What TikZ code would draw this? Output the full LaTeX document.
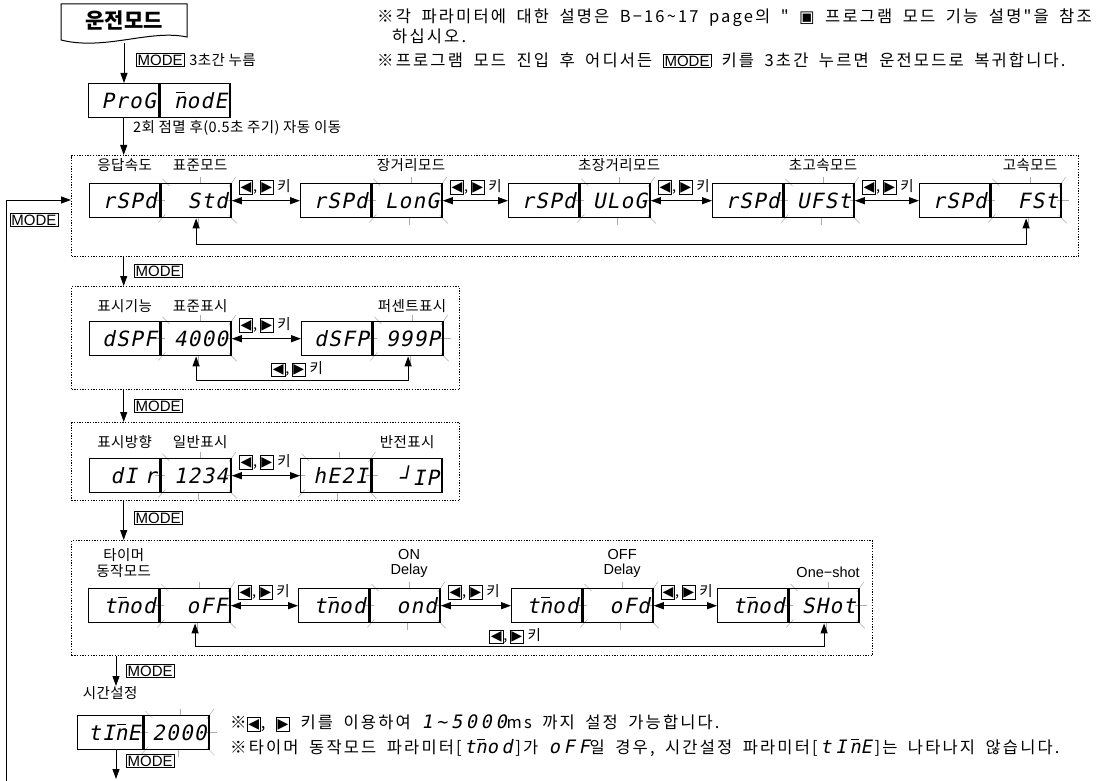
\documentclass[tikz,border=0pt]{standalone}
\usepackage{fontspec}
\setmainfont{Noto Sans CJK KR}
\newfontfamily\lat{Liberation Sans}
\newfontfamily\dejav{DejaVu Sans}
\newfontfamily\segf[FakeSlant=0.2,LetterSpace=6]{DejaVu Sans Mono}
\newfontfamily\segn[FakeSlant=0.2,LetterSpace=20]{DejaVu Sans Mono}
\newfontfamily\notef[WordSpace=1.8,LetterSpace=13]{Noto Sans CJK KR}
\newfontfamily\labf[LetterSpace=3]{Noto Sans CJK KR}
\usetikzlibrary{arrows.meta,backgrounds}
\newcommand\segfont{\segf\fontsize{21}{21}\selectfont}
\newcommand\segi{\segn\fontsize{18.5}{18.5}\selectfont}
\newcommand\labfont{\labf\fontsize{14.5}{16}\selectfont}
\newcommand\latfont{\lat\fontsize{14.5}{15}\selectfont}
\newcommand\notefont{\notef\fontsize{16.5}{18}\selectfont}
\newcommand\modefont{\lat\fontsize{15}{15}\selectfont}
\newcommand\segm{\ooalign{n\cr\hidewidth\rule[0.72em]{0.42em}{0.07em}\hidewidth\cr}}
\newcommand\keyl{{\setlength\fboxsep{1pt}\setlength\fboxrule{0.7pt}\fbox{\dejav\fontsize{14}{14}\selectfont ◀}}}
\newcommand\keyr{{\setlength\fboxsep{1pt}\setlength\fboxrule{0.7pt}\fbox{\dejav\fontsize{14}{14}\selectfont ▶}}}
\newcommand\keytext{\keyl,\,\keyr\ 키}
\newcommand\modekey{{\setlength\fboxsep{1pt}\setlength\fboxrule{0.6pt}\fbox{\modefont MODE}}}
\newcommand\blink[1]{%
 \draw[tickl] ([xshift=4pt,yshift=6pt]#1.north) -- ([xshift=4pt]#1.north);
 \draw[tickl] ([xshift=2pt]#1.south) -- ([xshift=2pt,yshift=-7pt]#1.south);
 \draw[tickl] ([xshift=-5pt]#1.west) -- ([xshift=5pt]#1.west);
 \draw[tickl] ([xshift=-5pt]#1.east) -- ([xshift=7pt]#1.east);
 \draw[tickl] ([shift={(2pt,4pt)}]#1.north west) -- ([shift={(9pt,-3pt)}]#1.north west);
 \draw[tickl] ([shift={(-3pt,-4pt)}]#1.north east) -- ([shift={(4pt,6pt)}]#1.north east);
 \draw[tickl] ([shift={(5pt,4pt)}]#1.south west) -- ([shift={(-2pt,-4pt)}]#1.south west);
 \draw[tickl] ([shift={(-3pt,3pt)}]#1.south east) -- ([shift={(5pt,-5pt)}]#1.south east);
}
\begin{document}
\begin{tikzpicture}[x=1pt,y=-1pt,
 segbox/.style={draw, line width=1.4pt, minimum width=70pt, minimum height=34pt, inner sep=0pt, text width=64pt, align=right, font=\segfont},
 tickl/.style={draw=gray!65, line width=0.5pt},
 arr/.style={-{Triangle[length=10pt,width=7pt]}, line width=0.9pt},
 dbl/.style={{Triangle[length=10pt,width=7pt]}-{Triangle[length=10pt,width=7pt]}, line width=1.2pt},
 frm/.style={draw, line width=1.3pt, dash pattern=on 1.3pt off 1.4pt, inner sep=0pt},
 lab/.style={inner sep=0pt, font=\labfont},
 keylab/.style={inner sep=0pt, font=\labfont, anchor=south west},
 modek/.style={draw, line width=0.6pt, inner sep=1.3pt, font=\modefont},
 note/.style={inner sep=0pt, font=\notefont, anchor=west}]
\useasboundingbox (0,0) rectangle (1100,781);

% frames
\node[frm, minimum width=1007pt, minimum height=101pt, anchor=north west] (f1) at (71,155) {};
\node[frm, minimum width=388pt, minimum height=103pt, anchor=north west] (f2) at (71,286) {};
\node[frm, minimum width=388pt, minimum height=78pt, anchor=north west] (f3) at (71,422) {};
\node[frm, minimum width=801pt, minimum height=115pt, anchor=north west] (f4) at (71,540) {};

% run mode box
\node[inner sep=0pt, font=\bfseries\fontsize{21}{21}\selectfont] (run) at (124,21) {운전모드};
\draw[line width=1pt] (61,40) -- (61,4) -- (187,4) -- (187,37) .. controls (150,29) and (105,51) .. (61,40) -- cycle;
\coordinate (runb) at (124,43);

% program mode
\node[segbox, anchor=north west] (pga) at (88,83) {ProG};
\node[segbox, anchor=west] (pgb) at (pga.east) {\segm odE};
\draw[arr] (runb) -- (runb |- pga.north);
\node[modek, anchor=west] (mk0) at (136,60) {MODE};
\node[lab, anchor=west] (t0) at ([xshift=5pt]mk0.east) {3초간 누름};
\draw[arr] (pga.south) -- (pga.south |- f1.north);
\node[lab, anchor=west] (t1) at (133,128) {2회 점멸 후(0.5초 주기) 자동 이동};

% notes
\node[note] (n1) at (377,18) {※각 파라미터에 대한 설명은 B−16\textasciitilde 17 page의 " {\dejav ▣} 프로그램 모드 기능 설명"을 참조};
\node[note] (n1b) at (392,36) {하십시오.};
\node[note] (n2) at (377,60) {※프로그램 모드 진입 후 어디서든 \modekey\ 키를 3초간 누르면 운전모드로 복귀합니다.};

% row 1 : response speed
\node[segbox, anchor=north west] (a1) at (89,183) {rSPd};
\node[segbox, anchor=west] (a1v) at (a1.east) {Std};
\node[segbox, anchor=north west] (a2) at (300,183) {rSPd};
\node[segbox, anchor=west] (a2v) at (a2.east) {LonG};
\node[segbox, anchor=north west] (a3) at (508,183) {rSPd};
\node[segbox, anchor=west] (a3v) at (a3.east) {ULoG};
\node[segbox, anchor=north west] (a4) at (712,183) {rSPd};
\node[segbox, anchor=west] (a4v) at (a4.east) {UFSt};
\node[segbox, anchor=north west] (a5) at (919,183) {rSPd};
\node[segbox, anchor=west] (a5v) at (a5.east) {FSt};
\node[lab] (la0) at ([yshift=18pt]a1.north) {응답속도};
\node[lab] (la1) at ([xshift=4pt,yshift=18pt]a1v.north) {표준모드};
\node[lab] (la2) at ([xshift=4pt,yshift=18pt]a2v.north) {장거리모드};
\node[lab] (la3) at ([xshift=4pt,yshift=18pt]a3v.north) {초장거리모드};
\node[lab] (la4) at ([xshift=4pt,yshift=18pt]a4v.north) {초고속모드};
\node[lab] (la5) at ([xshift=4pt,yshift=18pt]a5v.north) {고속모드};
\draw[dbl] (a1v.east) -- (a2.west);
\draw[dbl] (a2v.east) -- (a3.west);
\draw[dbl] (a3v.east) -- (a4.west);
\draw[dbl] (a4v.east) -- (a5.west);
\node[keylab] (ka1) at ([shift={(7pt,6pt)}]a1v.east) {\keytext};
\node[keylab] (ka2) at ([shift={(7pt,6pt)}]a2v.east) {\keytext};
\node[keylab] (ka3) at ([shift={(7pt,6pt)}]a3v.east) {\keytext};
\node[keylab] (ka4) at ([shift={(7pt,6pt)}]a4v.east) {\keytext};
\draw[dbl] (a5v.south) -- ++(0,-26pt) -| (a1v.south);

% row 2 : display function
\node[segbox, anchor=north west] (b1) at (89,321) {dSPF};
\node[segbox, anchor=west] (b1v) at (b1.east) {4000};
\node[segbox, anchor=north west] (b2) at (301,321) {dSFP};
\node[segbox, anchor=west] (b2v) at (b2.east) {999P};
\node[lab] (lb0) at ([yshift=15pt]b1.north) {표시기능};
\node[lab] (lb1) at ([xshift=4pt,yshift=15pt]b1v.north) {표준표시};
\node[lab] (lb2) at ([xshift=4pt,yshift=15pt]b2v.north) {퍼센트표시};
\draw[dbl] (b1v.east) -- (b2.west);
\node[keylab] (kb1) at ([shift={(7pt,6pt)}]b1v.east) {\keytext};
\draw[dbl] (b2v.south) -- ++(0,-24pt) -| (b1v.south);
\node[lab] (kb2) at ([xshift=-4pt,yshift=-13pt]b1v.south -| b2.west) {\keytext};

% row 3 : display direction
\node[segbox, anchor=north west] (c1) at (89,458) {dI r};
\node[segbox, anchor=west] (c1v) at (c1.east) {1234};
\node[segbox, anchor=north west] (c2) at (300,458) {hE2I};
\node[segbox, anchor=west] (c2v) at (c2.east) {┘IP};
\node[lab] (lc0) at ([yshift=16pt]c1.north) {표시방향};
\node[lab] (lc1) at ([xshift=4pt,yshift=16pt]c1v.north) {일반표시};
\node[lab] (lc2) at ([yshift=16pt]c2v.north) {반전표시};
\draw[dbl] (c1v.east) -- (c2.west);
\node[keylab] (kc1) at ([shift={(7pt,6pt)}]c1v.east) {\keytext};

% row 4 : timer mode
\node[segbox, anchor=north west] (d1) at (88,588) {t\segm od};
\node[segbox, anchor=west] (d1v) at (d1.east) {oFF};
\node[segbox, anchor=north west] (d2) at (298,588) {t\segm od};
\node[segbox, anchor=west] (d2v) at (d2.east) {ond};
\node[segbox, anchor=north west] (d3) at (511,588) {t\segm od};
\node[segbox, anchor=west] (d3v) at (d3.east) {oFd};
\node[segbox, anchor=north west] (d4) at (717,588) {t\segm od};
\node[segbox, anchor=west] (d4v) at (d4.east) {SHot};
\node[lab, align=center, anchor=south] (ld0) at ([yshift=10pt]d1.north) {타이머\\동작모드};
\node[lab, font=\latfont, align=center, anchor=south] (ld2) at ([xshift=4pt,yshift=10pt]d2v.north) {ON\\Delay};
\node[lab, font=\latfont, align=center, anchor=south] (ld3) at ([xshift=4pt,yshift=10pt]d3v.north) {OFF\\Delay};
\node[lab, font=\latfont, anchor=south] (ld4) at ([xshift=4pt,yshift=10pt]d4v.north) {One−shot};
\draw[dbl] (d1v.east) -- (d2.west);
\draw[dbl] (d2v.east) -- (d3.west);
\draw[dbl] (d3v.east) -- (d4.west);
\node[keylab] (kd1) at ([shift={(7pt,6pt)}]d1v.east) {\keytext};
\node[keylab] (kd2) at ([shift={(7pt,6pt)}]d2v.east) {\keytext};
\node[keylab] (kd3) at ([shift={(7pt,6pt)}]d3v.east) {\keytext};
\draw[dbl] (d4v.south) -- ++(0,-23pt) -| (d1v.south);
\node[lab] (kd4) at ([xshift=4pt,yshift=-13pt]d1v.south -| d3.west) {\keytext};

% MODE transitions between frames
\draw[arr] (f1.south -| pga) -- (f2.north -| pga);
\node[modek, anchor=west] (mk1) at (134,271) {MODE};
\draw[arr] (f2.south -| pga) -- (f3.north -| pga);
\node[modek, anchor=west] (mk2) at (134,406) {MODE};
\draw[arr] (f3.south -| pga) -- (f4.north -| pga);
\node[modek, anchor=west] (mk3) at (134,518) {MODE};

% time setting
\node[segbox, minimum width=65pt, text width=60pt, anchor=north west] (e1) at (77,715) {tI\segm E};
\node[segbox, minimum width=65pt, text width=60pt, anchor=west] (e1v) at (e1.east) {2000};
\node[lab] (le0) at ([yshift=22pt]e1.north) {시간설정};
\coordinate (tx) at (116,686);
\draw[arr] (f4.south -| tx) -- (tx);
\node[modek, anchor=west] (mk4) at (126,671) {MODE};
\coordinate (bx) at (116,779);
\draw[arr] (e1.south -| bx) -- (bx);
\node[modek, anchor=west] (mk5) at (126,761) {MODE};
\node[note] (n3) at (230,723) {※\keyl, \keyr\ 키를 이용하여 {\segi 1\textasciitilde 5000}ms 까지 설정 가능합니다.};
\node[note] (n4) at (230,748) {※타이머 동작모드 파라미터[\,{\segi t\segm od}\,]가 {\segi oFF}일 경우, 시간설정 파라미터[\,{\segi tI\,\segm E}\,]는 나타나지 않습니다.};

% loop back
\coordinate (lp0) at (6,781);
\coordinate (lp1) at (6,200);
\draw[arr] (lp0) -- (lp1) -- (lp1 -| f1.west);
\node[modek] (mk6) at (34,220) {MODE};

% blinking marks
\begin{scope}[on background layer]
\blink{a1v}\blink{a2v}\blink{a3v}\blink{a4v}\blink{a5v}
\blink{b1v}\blink{b2v}
\blink{c1v}\blink{c2}
\blink{d1v}\blink{d2v}\blink{d3v}\blink{d4v}
\blink{e1v}
\end{scope}
\end{tikzpicture}
\end{document}
